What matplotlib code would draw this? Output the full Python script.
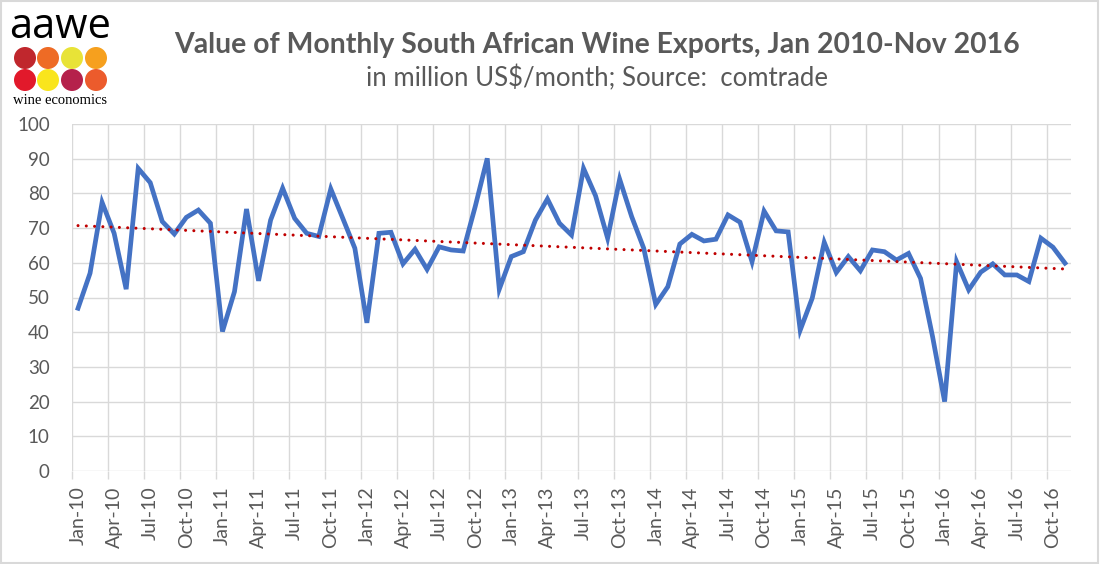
import matplotlib
matplotlib.use("Agg")
import matplotlib.pyplot as plt
from matplotlib.patches import Circle, Rectangle
import numpy as np

# monthly export values, Jan 2010 .. Nov 2016 (million US$)
values = [46.9, 57.0, 77.4, 68.5, 52.4, 87.2, 83.1, 71.9, 68.3, 73.1, 75.2, 71.4,
          40.2, 51.7, 75.5, 54.8, 72.3, 81.5, 72.8, 68.5, 67.6, 81.3, 72.8, 64.2,
          42.7, 68.5, 68.8, 59.7, 63.9, 58.1, 64.6, 63.7, 63.4, 76.2, 90.1, 52.4,
          61.8, 63.2, 72.3, 78.4, 71.4, 68.0, 87.2, 79.3, 67.1, 84.1, 73.3, 64.2,
          48.0, 53.1, 65.4, 68.2, 66.3, 66.8, 73.8, 71.7, 60.3, 74.9, 69.2, 68.9,
          40.6, 49.8, 65.9, 57.2, 61.8, 57.7, 63.7, 63.2, 60.8, 62.7, 55.5, 38.7,
          20.0, 60.3, 52.2, 57.3, 59.7, 56.5, 56.5, 54.6, 67.1, 64.5, 59.9]
tick_labels = ["Jan-10", "Apr-10", "Jul-10", "Oct-10", "Jan-11", "Apr-11", "Jul-11",
               "Oct-11", "Jan-12", "Apr-12", "Jul-12", "Oct-12", "Jan-13", "Apr-13",
               "Jul-13", "Oct-13", "Jan-14", "Apr-14", "Jul-14", "Oct-14", "Jan-15",
               "Apr-15", "Jul-15", "Oct-15", "Jan-16", "Apr-16", "Jul-16", "Oct-16"]
y_ticks = [0, 10, 20, 30, 40, 50, 60, 70, 80, 90, 100]
logo_colors = ["#c0272d", "#ee6b25", "#e8e337", "#f6a01e",
               "#e2192b", "#f9e51d", "#b5214b", "#ec5b2c"]

grey = "#595959"
grid = "#d9d9d9"
plt.rcParams['font.family'] = ['Lato', 'DejaVu Sans']

W, H = 1100, 564
fig = plt.figure(figsize=(W / 100, H / 100), dpi=100)
ax = fig.add_axes([72 / W, 1 - 471 / H, (1071 - 72) / W, (471 - 124) / H])

x = np.arange(len(values))
ax.plot(x, values, color="#4472c4", lw=3.4, solid_joinstyle="miter", zorder=3)

# linear trendline like Excel's
k, b = np.polyfit(x, values, 1)
ax.plot(x, k * x + b, color="#c00000", lw=2.2, linestyle=(0, (0.01, 2.7)),
        dash_capstyle="round", zorder=4)

ax.set_xlim(-0.5, len(values) - 0.5)
ax.set_ylim(0, 100)
ax.set_yticks(y_ticks)
ax.tick_params(axis="y", length=0, pad=16, labelsize=13.5, labelcolor=grey)

# gridlines between categories every 3 months, labels on category centres
ax.set_xticks(np.arange(-0.5, len(values) - 1, 3))
ax.set_xticklabels([])
ax.set_xticks(np.arange(0, len(values), 3), minor=True)
ax.set_xticklabels(tick_labels, minor=True, rotation=90)
ax.tick_params(axis="x", which="major", length=6, width=1, color=grid)
ax.tick_params(axis="x", which="minor", length=0, pad=11, labelsize=14, labelcolor=grey)
ax.grid(True, which="major", color=grid, lw=1)
ax.set_axisbelow(True)
for s in ax.spines.values():
    s.set_visible(False)

fig.text(0.543, 1 - 45 / H, "Value of Monthly South African Wine Exports, Jan 2010-Nov 2016",
         ha="center", va="center", fontsize=20.4, fontweight="bold", color=grey)
fig.text(0.543, 1 - 78 / H, "in million US$/month; Source:  comtrade",
         ha="center", va="center", fontsize=18.5, color=grey)

# logo
lax = fig.add_axes([0, 1 - 115 / H, 115 / W, 115 / H])
lax.set_xlim(0, 115)
lax.set_ylim(115, 0)
lax.axis("off")
lax.text(60, 38, "aawe", ha="center", va="baseline", fontsize=30, color="black",
         family=["Open Sans", "DejaVu Sans"])
cx = [25, 48, 72, 96]
for i, c in enumerate(logo_colors):
    lax.add_patch(Circle((cx[i % 4], 58 if i < 4 else 80), 11, color=c, lw=0))
lax.text(60, 101, "wine economics", ha="center", va="center", fontsize=10.5,
         color="black", family="Liberation Serif")

fig.patches.append(Rectangle((0.001, 0.002), 0.997, 0.996, transform=fig.transFigure,
                             fill=False, edgecolor=grid, lw=1.5))

fig.savefig("out.png", dpi=100)
